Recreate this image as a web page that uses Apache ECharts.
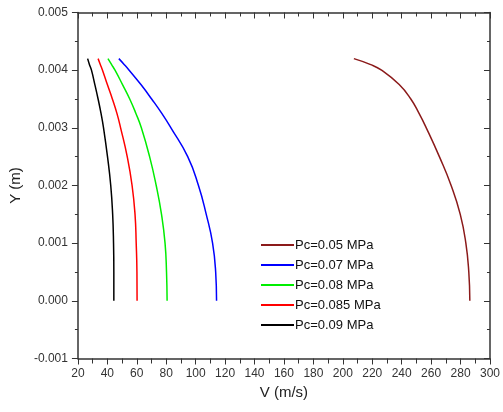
<!DOCTYPE html>
<html>
<head>
<meta charset="utf-8">
<script src="https://cdn.jsdelivr.net/npm/echarts@6/dist/echarts.min.js"></script>
<style>
  html, body { margin: 0; padding: 0; background: #fff; }
  #chart { width: 503px; height: 412px; }
</style>
</head>
<body>
<div id="chart"></div>
<script>
// Y positions (m) shared by every curve
const yLevels = [0, 0.0005, 0.001, 0.0015, 0.002, 0.0025, 0.003, 0.00325, 0.0035, 0.00375, 0.004, 0.0041, 0.0042];

// V (m/s) read at each Y level
const vPc005 = [286.3, 285.6, 283.6, 279.8, 273.6, 265.6, 256.7, 251.8, 246.2, 238.3, 226.3, 218.5, 207.5];
const vPc007 = [114.2, 113.6, 111.5, 107.2, 101.9, 94.6, 83.2, 77.0, 70.1, 62.8, 54.8, 51.4, 47.8];
const vPc008 = [80.6, 80.2, 79.2, 76.8, 73.2, 68.7, 63.1, 59.4, 55.2, 50.3, 45.2, 42.8, 40.4];
const vPc0085 = [60.2, 60.1, 59.6, 58.8, 56.8, 53.5, 49.0, 46.5, 43.4, 40.0, 36.7, 35.2, 33.7];
const vPc009 = [44.4, 44.4, 44.2, 43.6, 42.3, 40.1, 37.4, 35.7, 33.7, 31.5, 29.2, 27.8, 26.6];

const seriesNames = ['Pc=0.05 MPa', 'Pc=0.07 MPa', 'Pc=0.08 MPa', 'Pc=0.085 MPa', 'Pc=0.09 MPa'];
const seriesColors = ['#8b1a1a', '#0000ff', '#00ee00', '#ff0000', '#000000'];
const seriesValues = [vPc005, vPc007, vPc008, vPc0085, vPc009];

const font = 'Liberation Sans, Arial, sans-serif';
const axisColor = '#333';

const chart = echarts.init(document.getElementById('chart'));

const fmtY = (v) => (Math.abs(v) < 1e-9 ? '0.000' : v.toFixed(3));

chart.setOption({
  animation: false,
  backgroundColor: '#fff',
  grid: { left: 74, right: 12, top: 12.5, bottom: 53.5 },
  legend: {
    orient: 'vertical',
    left: 261,
    top: 238,
    padding: 0,
    icon: 'rect',
    itemWidth: 33,
    itemHeight: 2,
    itemGap: 6,
    textStyle: { fontFamily: font, fontSize: 13, color: '#111', lineHeight: 14, padding: [0, 0, 0, -4] },
    data: seriesNames,
  },
  xAxis: [
    {
      type: 'value',
      min: 20,
      max: 300,
      interval: 20,
      name: 'V (m/s)',
      nameLocation: 'middle',
      nameGap: 27,
      nameTextStyle: { fontFamily: font, fontSize: 15, color: '#222' },
      axisLine: { onZero: false, lineStyle: { color: axisColor, width: 1.5 } },
      axisTick: { length: 6, lineStyle: { color: axisColor } },
      minorTick: { show: true, splitNumber: 2, length: 5, lineStyle: { color: axisColor } },
      axisLabel: { fontFamily: font, fontSize: 12, color: '#333', margin: 9 },
      splitLine: { show: false },
    },
    {
      type: 'value',
      position: 'top',
      min: 20,
      max: 300,
      interval: 20,
      axisLine: { onZero: false, lineStyle: { color: axisColor, width: 1.5 } },
      axisTick: { inside: true, length: 6, lineStyle: { color: axisColor } },
      minorTick: { show: true, splitNumber: 2, length: 4, lineStyle: { color: axisColor } },
      axisLabel: { show: false },
      splitLine: { show: false },
    },
  ],
  yAxis: [
    {
      type: 'value',
      min: -0.001,
      max: 0.005,
      interval: 0.001,
      name: 'Y (m)',
      nameLocation: 'middle',
      nameGap: 52,
      nameTextStyle: { fontFamily: font, fontSize: 15, color: '#222' },
      axisLine: { onZero: false, lineStyle: { color: axisColor, width: 1.5 } },
      axisTick: { length: 6, lineStyle: { color: axisColor } },
      minorTick: { show: true, splitNumber: 2, length: 3, lineStyle: { color: axisColor } },
      axisLabel: { fontFamily: font, fontSize: 12, color: '#333', margin: 10, formatter: fmtY },
      splitLine: { show: false },
    },
    {
      type: 'value',
      position: 'right',
      min: -0.001,
      max: 0.005,
      interval: 0.001,
      axisLine: { onZero: false, lineStyle: { color: axisColor, width: 1.5 } },
      axisTick: { inside: true, length: 6, lineStyle: { color: axisColor } },
      minorTick: { show: true, splitNumber: 2, length: 3, lineStyle: { color: axisColor } },
      axisLabel: { show: false },
      splitLine: { show: false },
    },
  ],
  series: seriesNames.map((name, i) => ({
    name: name,
    type: 'line',
    xAxisIndex: 0,
    yAxisIndex: 0,
    smooth: 0.5,
    showSymbol: false,
    color: seriesColors[i],
    lineStyle: { width: 1.5 },
    data: seriesValues[i].map((v, j) => [v, yLevels[j]]),
  })),
});
</script>
</body>
</html>
